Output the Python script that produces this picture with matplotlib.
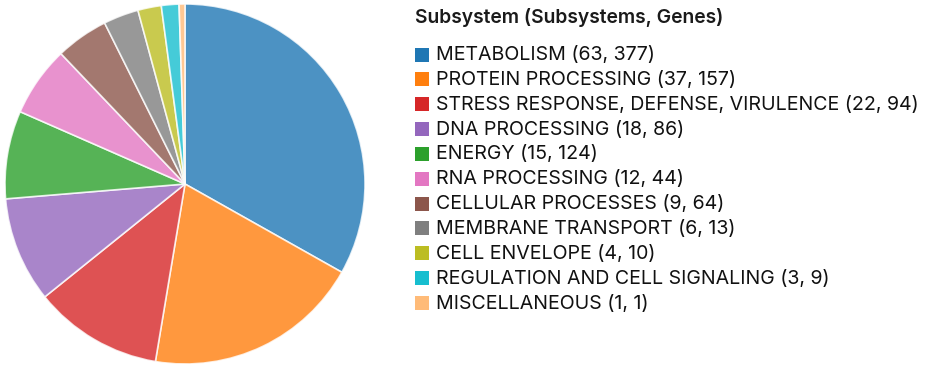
import matplotlib
matplotlib.use("Agg")
import matplotlib.pyplot as plt
from matplotlib.patches import Rectangle

categories = ["METABOLISM", "PROTEIN PROCESSING", "STRESS RESPONSE, DEFENSE, VIRULENCE",
              "DNA PROCESSING", "ENERGY", "RNA PROCESSING", "CELLULAR PROCESSES",
              "MEMBRANE TRANSPORT", "CELL ENVELOPE", "REGULATION AND CELL SIGNALING",
              "MISCELLANEOUS"]
subsystems = [63, 37, 22, 18, 15, 12, 9, 6, 4, 3, 1]
genes = [377, 157, 94, 86, 124, 44, 64, 13, 10, 9, 1]
colors = ["#1f77b4", "#ff7f0e", "#d62728", "#9467bd", "#2ca02c", "#e377c2",
          "#8c564b", "#7f7f7f", "#bcbd22", "#17becf", "#ffbb78"]
title = "Subsystem (Subsystems, Genes)"

W, H = 935, 369
fig = plt.figure(figsize=(W / 100, H / 100), dpi=100)
plt.rcParams['font.family'] = ['Inter', 'DejaVu Sans']

# pie axes in pixel coordinates
cx, cy, r = 185, 184, 180
ax = fig.add_axes([(cx - r) / W, (H - cy - r) / H, 2 * r / W, 2 * r / H])
ax.pie(subsystems, colors=colors, startangle=90, counterclock=False,
       wedgeprops=dict(edgecolor="white", linewidth=1.2, alpha=0.8))
ax.set_xlim(-1, 1)
ax.set_ylim(-1, 1)
ax.set_aspect("equal")
ax.axis("off")

# legend
fig.text(415 / W, 1 - 17.5 / H, title, fontsize=13.9, fontweight="semibold",
         va="center", ha="left", color="#1a1a1a")
y0, dy = 54.5, 24.85
for i, (c, s, g, col) in enumerate(zip(categories, subsystems, genes, colors)):
    y = y0 + i * dy
    fig.patches.append(Rectangle((415 / W, 1 - (y + 7) / H), 14 / W, 14 / H,
                                 transform=fig.transFigure, facecolor=col,
                                 edgecolor="none"))
    fig.text(436 / W, 1 - (y + 0.5) / H, f"{c} ({s}, {g})", fontsize=14.1,
             va="center", ha="left", color="#111111")

fig.savefig("out.png", dpi=100)
